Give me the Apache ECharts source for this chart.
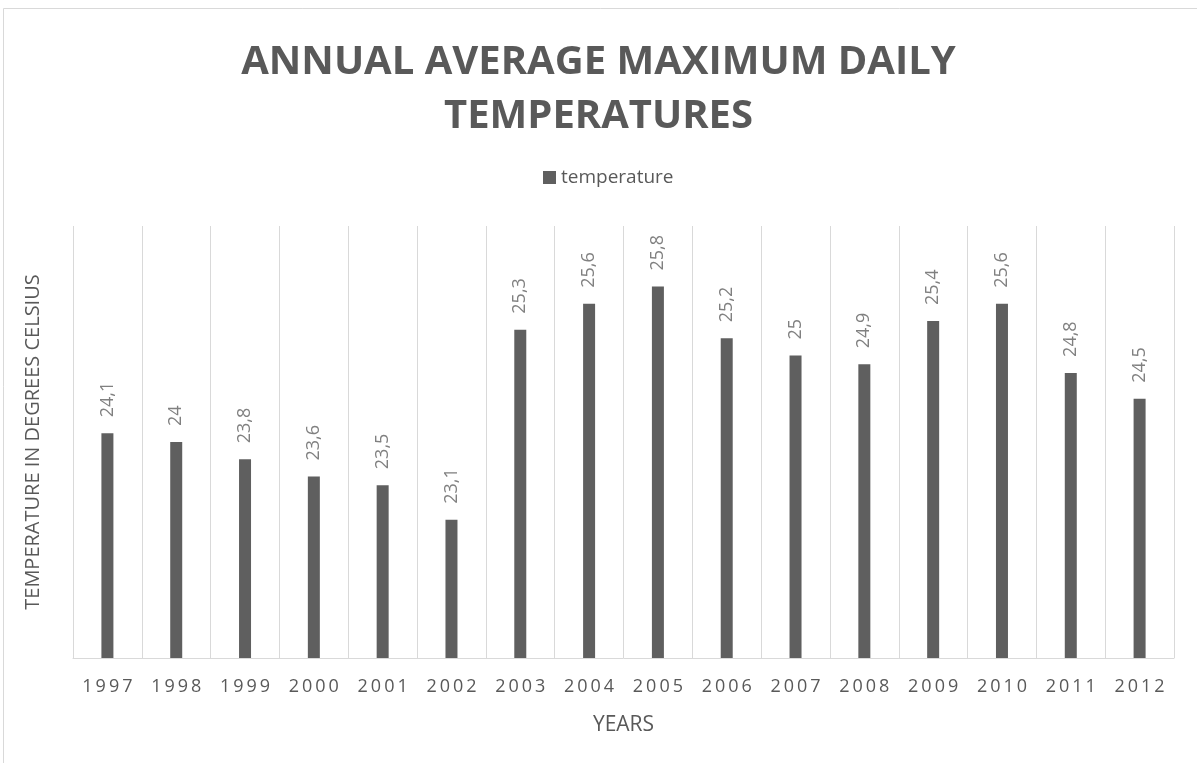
<!DOCTYPE html>
<html>
<head>
<meta charset="utf-8">
<script src="https://cdn.jsdelivr.net/npm/echarts@6/dist/echarts.min.js"></script>
<style>
  html, body { margin: 0; padding: 0; background: #fff; }
  #chart { width: 1197px; height: 763px; }
</style>
</head>
<body>
<div id="chart"></div>
<script>
// data
var years = ['1997', '1998', '1999', '2000', '2001', '2002', '2003', '2004',
             '2005', '2006', '2007', '2008', '2009', '2010', '2011', '2012'];
var temperature = [24.1, 24, 23.8, 23.6, 23.5, 23.1, 25.3, 25.6,
                   25.8, 25.2, 25, 24.9, 25.4, 25.6, 24.8, 24.5];

var GRAY = '#595959';
var FONT = '"Open Sans", "Noto Sans", sans-serif';

var myChart = echarts.init(document.getElementById('chart'));

var option = {
    backgroundColor: '#fff',
    animation: false,
    textStyle: { fontFamily: FONT },
    title: {
        text: 'ANNUAL AVERAGE MAXIMUM DAILY\nTEMPERATURES',
        left: 'center',
        top: 31,
        textStyle: {
            fontFamily: FONT,
            fontSize: 40,
            fontWeight: 'bold',
            color: GRAY,
            lineHeight: 54
        }
    },
    legend: {
        data: ['temperature'],
        top: 163,
        left: 538,
        icon: 'rect',
        itemWidth: 13,
        itemHeight: 13,
        itemGap: 5,
        textStyle: { fontFamily: FONT, fontSize: 19, color: GRAY }
    },
    // light frame of the chart area
    graphic: [{
        type: 'rect',
        silent: true,
        shape: { x: 3.5, y: 8.5, width: 1300, height: 900 },
        style: { fill: 'none', stroke: '#d9d9d9', lineWidth: 1 }
    }],
    grid: {
        left: 73,
        right: 23,
        top: 226,
        bottom: 105
    },
    xAxis: [{
        type: 'category',
        data: years,
        name: 'YEARS',
        nameLocation: 'middle',
        nameGap: 57,
        nameTextStyle: { fontFamily: FONT, fontSize: 21, color: GRAY },
        axisLine: { lineStyle: { color: '#d9d9d9', width: 1 } },
        axisTick: { show: false },
        axisLabel: {
            margin: 20,
            fontFamily: FONT,
            fontSize: 18,
            color: GRAY,
            formatter: function(v) {
                return v.split('').join('\u2009');
            }
        },
        splitLine: { show: true, lineStyle: { color: '#d9d9d9', width: 1 } }
    }],
    yAxis: [{
        type: 'value',
        min: 21.5,
        max: 26.5,
        interval: 0.5,
        name: 'TEMPERATURE IN DEGREES CELSIUS',
        nameLocation: 'middle',
        nameGap: 30,
        nameTextStyle: { fontFamily: FONT, fontSize: 20, color: GRAY },
        axisLine: { show: false },
        axisTick: { show: false },
        axisLabel: { show: false },
        splitLine: { show: false }
    }],
    series: [{
        name: 'temperature',
        type: 'bar',
        data: temperature,
        barWidth: 12,
        itemStyle: { color: '#5f5f5f' },
        label: {
            show: true,
            position: 'top',
            rotate: 90,
            align: 'left',
            verticalAlign: 'middle',
            distance: 16,
            fontFamily: FONT,
            fontSize: 18,
            color: '#808080',
            formatter: function(p) {
                return String(p.value).replace('.', ',');
            }
        }
    }]
};

myChart.setOption(option);
</script>
</body>
</html>
